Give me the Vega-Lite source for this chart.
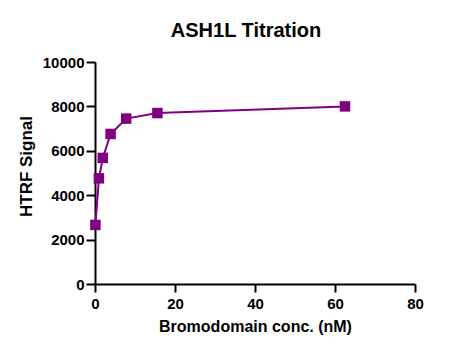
{
  "$schema": "https://vega.github.io/schema/vega-lite/v6.json",
  "width": 320,
  "height": 222,
  "autosize": {"type": "none"},
  "padding": {"left": 95, "top": 62, "right": 50, "bottom": 69},
  "background": "white",
  "title": {"text": "ASH1L Titration", "font": "Liberation Sans", "fontSize": 20, "fontWeight": "bold", "color": "black", "offset": 14, "dx": -9},
  "config": {"view": {"stroke": null}},
  "data": {"values": [
    {"conc": 0.1, "signal": 2660},
    {"conc": 0.98, "signal": 4760},
    {"conc": 1.95, "signal": 5680},
    {"conc": 3.9, "signal": 6760},
    {"conc": 7.8, "signal": 7450},
    {"conc": 15.6, "signal": 7700},
    {"conc": 62.5, "signal": 8000}
  ]},
  "encoding": {
    "x": {"field": "conc", "type": "quantitative", "scale": {"domain": [0, 80], "nice": false, "zero": true},
      "axis": {"title": "Bromodomain conc. (nM)", "values": [0, 20, 40, 60, 80], "grid": false, "domainColor": "black", "domainWidth": 2, "tickColor": "black", "tickWidth": 2, "tickSize": 8, "labelFont": "Liberation Sans", "labelFontSize": 15, "labelFontWeight": "bold", "labelColor": "black", "labelPadding": 4, "titleFont": "Liberation Sans", "titleFontSize": 16, "titleFontWeight": "bold", "titleColor": "black", "titlePadding": 7, "labelFlush": false}},
    "y": {"field": "signal", "type": "quantitative", "scale": {"domain": [0, 10000], "nice": false},
      "axis": {"title": "HTRF Signal", "values": [0, 2000, 4000, 6000, 8000, 10000], "format": "d", "grid": false, "domainColor": "black", "domainWidth": 2, "tickColor": "black", "tickWidth": 2, "tickSize": 9, "labelFont": "Liberation Sans", "labelFontSize": 15, "labelFontWeight": "bold", "labelColor": "black", "labelPadding": 2, "titleFont": "Liberation Sans", "titleFontSize": 17, "titleFontWeight": "bold", "titleColor": "black", "titleAngle": -90, "titleX": -69, "titleY": 104, "titleAlign": "center", "titleBaseline": "middle", "labelFlush": false}}
  },
  "layer": [
    {"mark": {"type": "line", "color": "#800080", "strokeWidth": 2}},
    {"mark": {"type": "square", "color": "#800080", "opacity": 1, "size": 110, "filled": true}}
  ]
}
